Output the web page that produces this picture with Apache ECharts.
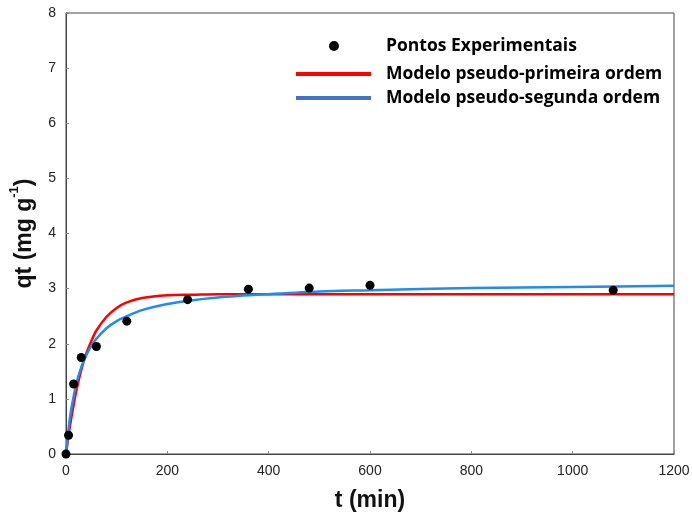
<!DOCTYPE html>
<html>
<head>
<meta charset="utf-8">
<script src="https://cdn.jsdelivr.net/npm/echarts@6/dist/echarts.min.js"></script>
<style>
  html, body { margin: 0; padding: 0; background: #fff; }
  #chart { width: 692px; height: 521px; }
</style>
</head>
<body>
<div id="chart"></div>
<script>
/* cinetica de adsorcao */

var xTicks = [0, 200, 400, 600, 800, 1000, 1200];

// pontos experimentais
var expT = [0, 5, 15, 30, 60, 120, 240, 360, 480, 600, 1080];
var expQ = [0, 0.34, 1.27, 1.75, 1.95, 2.41, 2.80, 2.99, 3.01, 3.06, 2.97];

// curva modelo pseudo-primeira ordem
var pfoT = [0, 5, 10, 20, 30, 40, 50, 60, 80, 100, 120, 150, 200, 250, 300, 400, 600, 800, 1000, 1200];
var pfoQ = [0, 0.34, 0.63, 1.13, 1.52, 1.82, 2.05, 2.24, 2.49, 2.65, 2.75, 2.83, 2.88, 2.89, 2.90, 2.90, 2.90, 2.90, 2.90, 2.90];

// curva modelo pseudo-segunda ordem
var psoT = [0, 5, 10, 20, 30, 40, 50, 60, 80, 100, 120, 150, 200, 250, 300, 400, 500, 600, 800, 1000, 1200];
var psoQ = [0, 0.45, 0.79, 1.26, 1.57, 1.79, 1.96, 2.09, 2.28, 2.41, 2.50, 2.61, 2.72, 2.79, 2.84, 2.90, 2.95, 2.97, 3.01, 3.03, 3.05];

var names = ['Pontos Experimentais', 'Modelo pseudo-primeira ordem', 'Modelo pseudo-segunda ordem'];

function pairs(xs, ys) {
    var out = [];
    for (var i = 0; i < xs.length; i++) {
        out.push([xs[i], ys[i]]);
    }
    return out;
}

var myChart = echarts.init(document.getElementById('chart'));

function legendText(padLeft) {
    return {
        fontFamily: 'Open Sans',
        fontWeight: 'bold',
        fontSize: 17.5,
        color: '#000',
        lineHeight: 20,
        padding: [0, 0, 0, padLeft]
    };
}

var option = {
    backgroundColor: '#fff',
    animation: false,
    grid: {
        left: 66, right: 18, top: 13, bottom: 67,
        outerBoundsMode: 'none',
        show: true,
        borderColor: '#444',
        borderWidth: 1
    },
    legend: [
        {
            left: 329, top: 36, padding: 0,
            selectedMode: false,
            icon: 'circle', itemWidth: 10, itemHeight: 10,
            data: [{ name: names[0], itemStyle: { color: '#000', opacity: 1 } }],
            textStyle: legendText(42)
        },
        {
            left: 296, top: 64, padding: 0,
            selectedMode: false,
            icon: 'rect', itemWidth: 75, itemHeight: 4,
            data: [{ name: names[1], itemStyle: { color: '#ff0000' } }],
            textStyle: legendText(10)
        },
        {
            left: 296, top: 88, padding: 0,
            selectedMode: false,
            icon: 'rect', itemWidth: 75, itemHeight: 4,
            data: [{ name: names[2], itemStyle: { color: '#4472c4' } }],
            textStyle: legendText(10)
        }
    ],
    xAxis: {
        type: 'value',
        min: 0, max: 1200, interval: 200,
        name: 't (min)',
        nameLocation: 'middle',
        nameGap: 35,
        nameTextStyle: { fontFamily: 'Liberation Sans', fontWeight: 'bold', fontSize: 23, color: '#111' },
        axisLine: { show: true, lineStyle: { color: '#444', width: 1 } },
        axisTick: { show: true, inside: true, length: 3, lineStyle: { color: '#888' } },
        axisLabel: { margin: 10, fontFamily: 'Liberation Sans', fontSize: 14, color: '#222',
            formatter: function (v) { return xTicks.indexOf(v) >= 0 ? String(v) : ''; } },
        splitLine: { show: false }
    },
    yAxis: {
        type: 'value',
        min: 0, max: 8, interval: 1,
        name: '{a|qt (mg g}{s|-1}{a|)}',
        nameLocation: 'middle',
        nameGap: 30,
        nameTextStyle: {
            rich: {
                a: { fontFamily: 'Liberation Sans', fontWeight: 'bold', fontSize: 23, color: '#111', lineHeight: 28, verticalAlign: 'bottom' },
                s: { fontFamily: 'Liberation Sans', fontWeight: 'bold', fontSize: 13, color: '#111', lineHeight: 28, verticalAlign: 'top' }
            }
        },
        axisLine: { show: true, lineStyle: { color: '#444', width: 1 } },
        axisTick: { show: true, inside: true, length: 3, lineStyle: { color: '#888' } },
        axisLabel: { margin: 10, fontFamily: 'Liberation Sans', fontSize: 14, color: '#222' },
        splitLine: { show: false }
    },
    series: [
        {
            name: names[1],
            type: 'line',
            data: pairs(pfoT, pfoQ),
            showSymbol: false,
            smooth: 0.3,
            color: '#ff0000',
            lineStyle: { color: '#ff0000', width: 2.5 },
            z: 2
        },
        {
            name: names[2],
            type: 'line',
            data: pairs(psoT, psoQ),
            showSymbol: false,
            smooth: 0.3,
            color: '#1e8cf0',
            lineStyle: { color: '#1e8cf0', width: 2.5 },
            z: 3
        },
        {
            name: names[0],
            type: 'scatter',
            data: pairs(expT, expQ),
            symbolSize: 9,
            itemStyle: { color: '#000', opacity: 1 },
            z: 4
        }
    ]
};

if (option && typeof option === 'object') {
    myChart.setOption(option, true);
}
</script>
</body>
</html>
